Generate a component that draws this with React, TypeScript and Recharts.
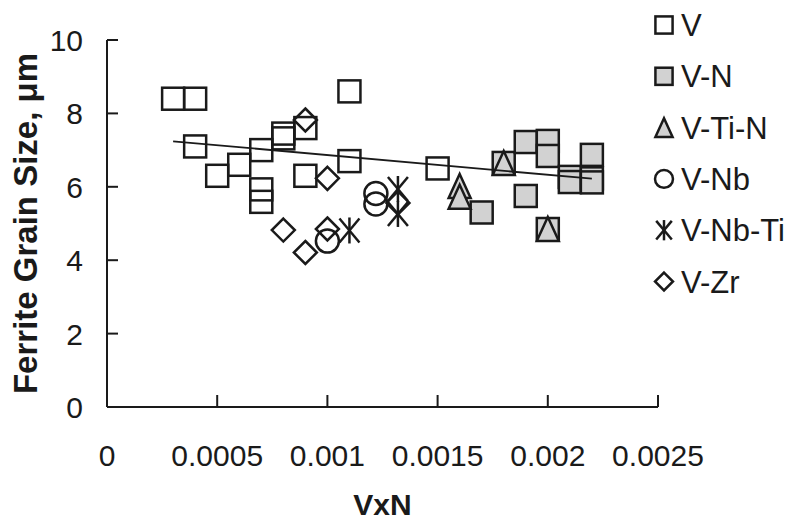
import React from "react";
import { ScatterChart, Scatter, XAxis, YAxis, Label } from "recharts";

// values (x = VxN, y = ferrite grain size in µm)
const vSteels = [
  { x: 0.0003, y: 8.4 }, { x: 0.0004, y: 8.4 }, { x: 0.0004, y: 7.1 },
  { x: 0.0005, y: 6.3 }, { x: 0.0006, y: 6.6 }, { x: 0.0007, y: 7.0 },
  { x: 0.0007, y: 5.93 }, { x: 0.0007, y: 5.59 }, { x: 0.0008, y: 7.45 },
  { x: 0.0008, y: 7.32 }, { x: 0.0009, y: 7.6 }, { x: 0.0009, y: 6.3 },
  { x: 0.0011, y: 8.6 }, { x: 0.0011, y: 6.7 }, { x: 0.0015, y: 6.5 },
];
const vnSteels = [
  { x: 0.0017, y: 5.3 }, { x: 0.0018, y: 6.65 }, { x: 0.0019, y: 7.22 },
  { x: 0.0019, y: 5.75 }, { x: 0.002, y: 7.25 }, { x: 0.002, y: 6.84 },
  { x: 0.002, y: 4.85 }, { x: 0.0021, y: 6.27 }, { x: 0.0021, y: 6.13 },
  { x: 0.0022, y: 6.87 }, { x: 0.0022, y: 6.23 }, { x: 0.0022, y: 6.12 },
];
const vTiNSteels = [
  { x: 0.0016, y: 6.02 }, { x: 0.0016, y: 5.73 }, { x: 0.0018, y: 6.65 }, { x: 0.002, y: 4.85 },
];
const vNbSteels = [
  { x: 0.001, y: 4.52 }, { x: 0.00122, y: 5.82 }, { x: 0.00122, y: 5.53 },
];
const vNbTiSteels = [
  { x: 0.0011, y: 4.81 }, { x: 0.00132, y: 5.94 }, { x: 0.00132, y: 5.26 },
];
const vZrSteels = [
  { x: 0.0008, y: 4.82 }, { x: 0.0009, y: 4.21 }, { x: 0.0009, y: 7.82 },
  { x: 0.001, y: 6.23 }, { x: 0.001, y: 4.85 }, { x: 0.00132, y: 5.56 },
];
const trend = [{ x: 0.0003, y: 7.24 }, { x: 0.0022, y: 6.22 }];

const xTicks = [0, 0.0005, 0.001, 0.0015, 0.002, 0.0025];
const yTicks = [0, 2, 4, 6, 8, 10];
const legendNames = ["V", "V-N", "V-Ti-N", "V-Nb", "V-Nb-Ti", "V-Zr"];

const INK = "#1a1a1a";
const GREY = "#d2d2d2";
const FONT = "'Liberation Sans', Arial, sans-serif";

type Mark = "square" | "greySquare" | "triangle" | "circle" | "asterisk" | "diamond";

function Marker({ kind, cx, cy, s = 1 }: { kind: Mark; cx: number; cy: number; s?: number }) {
  const sw = 2.5;
  const h = 11 * s;
  switch (kind) {
    case "square":
    case "greySquare":
      return (
        <rect x={cx - h} y={cy - h} width={h * 2} height={h * 2}
          fill={kind === "square" ? "none" : GREY} stroke={INK} strokeWidth={sw} />
      );
    case "triangle":
      return (
        <polygon points={`${cx},${cy - 12 * s} ${cx - 11 * s},${cy + 12 * s} ${cx + 11 * s},${cy + 12 * s}`}
          fill={GREY} stroke={INK} strokeWidth={sw} strokeLinejoin="miter" />
      );
    case "circle":
      return <circle cx={cx} cy={cy} r={11.5 * s} fill="none" stroke={INK} strokeWidth={sw} />;
    case "diamond":
      return (
        <polygon points={`${cx},${cy - 11.5 * s} ${cx + 11.5 * s},${cy} ${cx},${cy + 11.5 * s} ${cx - 11.5 * s},${cy}`}
          fill="none" stroke={INK} strokeWidth={sw} />
      );
    case "asterisk":
      return (
        <g stroke={INK} strokeWidth={sw}>
          <line x1={cx} x2={cx} y1={cy - 13 * s} y2={cy + 13 * s} />
          <line x1={cx - 10 * s} x2={cx + 10 * s} y1={cy - 12 * s} y2={cy + 12 * s} />
          <line x1={cx - 10 * s} x2={cx + 10 * s} y1={cy + 12 * s} y2={cy - 12 * s} />
        </g>
      );
  }
}

const legendKinds: Mark[] = ["square", "greySquare", "triangle", "circle", "asterisk", "diamond"];

const shapeOf = (kind: Mark) => (p: any) => <Marker kind={kind} cx={p.cx} cy={p.cy} />;

// eslint-disable-next-line @typescript-eslint/no-explicit-any
function YTick({ x, y, payload }: any) {
  return (
    <g>
      <line x1={x} x2={x + 11} y1={y} y2={y} stroke={INK} strokeWidth={2} />
      <text x={x - 24} y={y + 11} textAnchor="end" fontSize={30} fill={INK} fontFamily={FONT}>
        {payload.value}
      </text>
    </g>
  );
}

// eslint-disable-next-line @typescript-eslint/no-explicit-any
function XTick({ x, y, payload }: any) {
  return (
    <g>
      <line x1={x} x2={x} y1={y} y2={y - 12} stroke={INK} strokeWidth={2} />
      <text x={x} y={y + 59} textAnchor="middle" fontSize={30} fill={INK} fontFamily={FONT}>
        {String(payload.value)}
      </text>
    </g>
  );
}

// eslint-disable-next-line @typescript-eslint/no-explicit-any
function YTitle({ viewBox }: any) {
  const cx = viewBox.x + 37;
  const cy = viewBox.y + viewBox.height / 2;
  return (
    <text transform={`translate(${cx},${cy}) rotate(-90)`} textAnchor="middle"
      fontSize={33} fontWeight="bold" fill={INK} fontFamily={FONT}>
      Ferrite Grain Size, μm
    </text>
  );
}

// eslint-disable-next-line @typescript-eslint/no-explicit-any
function XTitle({ viewBox }: any) {
  return (
    <text x={viewBox.x + viewBox.width / 2} y={viewBox.y + 108} textAnchor="middle"
      fontSize={30} fontWeight="bold" fill={INK} fontFamily={FONT}>
      VxN
    </text>
  );
}

function SideLegend() {
  return (
    <svg width={145} height={300} style={{ position: "absolute", left: 650, top: 0 }}>
      {legendNames.map((name, i) => {
        const cy = 25 + i * 51.3;
        return (
          <g key={name}>
            <Marker kind={legendKinds[i]} cx={14} cy={cy} s={0.78} />
            <text x={31} y={cy + 11} fontSize={31} fill={INK} fontFamily={FONT}>{name}</text>
          </g>
        );
      })}
    </svg>
  );
}

export default function App() {
  return (
    <div style={{ position: "relative", width: 795, height: 527, background: "#fff", fontFamily: FONT }}>
      <style>{"body{margin:0}"}</style>
      <ScatterChart width={795} height={527} margin={{ top: 40, right: 137, bottom: 0, left: 0 }}>
        <XAxis type="number" dataKey="x" domain={[0, 0.0025]} ticks={xTicks} height={120}
          tickSize={0} tickMargin={0} tickLine={false} tick={<XTick />}
          axisLine={{ stroke: INK, strokeWidth: 2 }} allowDecimals>
          <Label content={<XTitle />} />
        </XAxis>
        <YAxis type="number" dataKey="y" domain={[0, 10]} ticks={yTicks} width={107}
          tickSize={0} tickMargin={0} tickLine={false} tick={<YTick />}
          axisLine={{ stroke: INK, strokeWidth: 2 }}>
          <Label content={<YTitle />} />
        </YAxis>
        <Scatter name="V" data={vSteels} shape={shapeOf("square")} isAnimationActive={false} />
        <Scatter name="V-N" data={vnSteels} shape={shapeOf("greySquare")} isAnimationActive={false} />
        <Scatter name="V-Ti-N" data={vTiNSteels} shape={shapeOf("triangle")} isAnimationActive={false} />
        <Scatter name="V-Nb" data={vNbSteels} shape={shapeOf("circle")} isAnimationActive={false} />
        <Scatter name="V-Nb-Ti" data={vNbTiSteels} shape={shapeOf("asterisk")} isAnimationActive={false} />
        <Scatter name="V-Zr" data={vZrSteels} shape={shapeOf("diamond")} isAnimationActive={false} />
        <Scatter name="trend" data={trend} line={{ stroke: INK, strokeWidth: 1.8 }}
          shape={() => <g />} isAnimationActive={false} />
      </ScatterChart>
      <SideLegend />
    </div>
  );
}
